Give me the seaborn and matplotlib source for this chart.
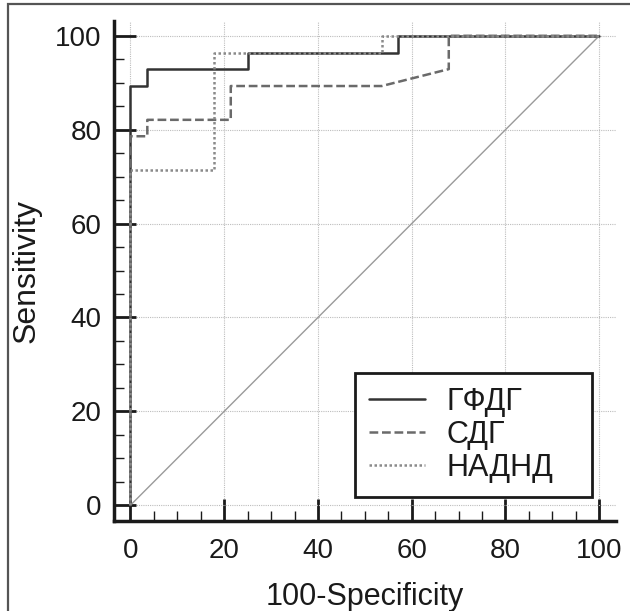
import matplotlib
matplotlib.use("Agg")
import matplotlib.pyplot as plt
from matplotlib.patches import Rectangle
from matplotlib.ticker import MultipleLocator
import numpy as np
import pandas as pd
import seaborn as sns

# ROC curve vertices: 100-Specificity (x) and Sensitivity (y), in percent
gfdg_fpr = [0, 0, 3.6, 3.6, 25.0, 25.0, 57.1, 57.1, 100]
gfdg_tpr = [0, 89.3, 89.3, 92.9, 92.9, 96.4, 96.4, 100, 100]

sdg_fpr = [0, 0, 3.6, 3.6, 21.4, 21.4, 53.6, 67.9, 67.9, 100]
sdg_tpr = [0, 78.6, 78.6, 82.1, 82.1, 89.3, 89.3, 92.9, 100, 100]

nadnd_fpr = [0, 0, 17.9, 17.9, 53.6, 53.6, 100]
nadnd_tpr = [0, 71.4, 71.4, 96.4, 96.4, 100, 100]

series_names = ["ГФДГ", "СДГ", "НАДНД"]
ref_line = [0, 100]
major_ticks = [0, 20, 40, 60, 80, 100]

sns.set_theme(style="white")
plt.rcParams["font.family"] = ["Liberation Sans", "DejaVu Sans"]

frames = []
for name, fx, fy in zip(series_names,
                        [gfdg_fpr, sdg_fpr, nadnd_fpr],
                        [gfdg_tpr, sdg_tpr, nadnd_tpr]):
    frames.append(pd.DataFrame({"fpr": fx, "tpr": fy, "test": name,
                                "order": np.arange(len(fx))}))
df = pd.concat(frames, ignore_index=True)

fig = plt.figure(figsize=(6.30, 6.11), dpi=100)
ax = fig.add_axes([0.181, 0.147, 0.797, 0.819])

# chance diagonal
ax.plot(ref_line, ref_line, color="#9a9a9a", lw=1.0, zorder=2)

styles = {"ГФДГ": dict(color="#333333", ls="-", lw=1.8),
          "СДГ": dict(color="#6a6a6a", ls=(0, (3.5, 1.5)), lw=1.8),
          "НАДНД": dict(color="#8a8a8a", ls=(0, (1, 1)), lw=1.8)}

for name in series_names:
    sub = df[df["test"] == name]
    st = styles[name]
    sns.lineplot(data=sub, x="fpr", y="tpr", sort=False, estimator=None,
                 ax=ax, color=st["color"], lw=st["lw"], linestyle=st["ls"],
                 label=name, zorder=3)

ax.set_xlim(-3.5, 103.6)
ax.set_ylim(-3.4, 103.2)
ax.xaxis.set_major_locator(plt.FixedLocator(major_ticks))
ax.yaxis.set_major_locator(plt.FixedLocator(major_ticks))
ax.xaxis.set_minor_locator(MultipleLocator(5))
ax.yaxis.set_minor_locator(MultipleLocator(5))
ax.set_xticklabels([str(t) for t in major_ticks])
ax.set_yticklabels([str(t) for t in major_ticks])

ax.grid(True, which="major", color="#bdbdbd", ls=(0, (1, 1)), lw=0.8, zorder=0)
ax.set_axisbelow(True)

for side in ["top", "right"]:
    ax.spines[side].set_visible(False)
for side in ["left", "bottom"]:
    ax.spines[side].set_color("#1a1a1a")
    ax.spines[side].set_linewidth(2.5)

ax.tick_params(which="major", direction="in", length=16, width=2.0,
               color="#1a1a1a", labelsize=20, labelcolor="#1a1a1a", pad=9)
ax.tick_params(axis="x", which="major", pad=12)
ax.tick_params(which="minor", direction="in", length=7, width=1.0,
               color="#1a1a1a")
ax.tick_params(axis="both", which="both", bottom=True, left=True)

ax.set_xlabel("100-Specificity", fontsize=22, color="#1a1a1a", labelpad=13)
ax.set_ylabel("Sensitivity", fontsize=23, color="#1a1a1a")
ax.yaxis.set_label_coords(-0.145, 0.5)

leg = ax.legend(loc="lower left", bbox_to_anchor=(0.480, 0.049, 0.472, 0.25),
                mode="expand",
                fontsize=22, frameon=True, fancybox=False, framealpha=1,
                edgecolor="#1a1a1a", handlelength=1.85, handletextpad=0.7,
                labelspacing=0.1, borderpad=0.45, borderaxespad=0)
leg.get_frame().set_linewidth(2.0)
for t in leg.get_texts():
    t.set_color("#1a1a1a")

# thin frame around the figure
fig.patches.append(Rectangle((8 / 630, -0.1), 1.2, 1 - 4 / 611 + 0.1,
                             transform=fig.transFigure, fill=False,
                             edgecolor="#555555", lw=1.6))

fig.savefig("out.png", dpi=100)
